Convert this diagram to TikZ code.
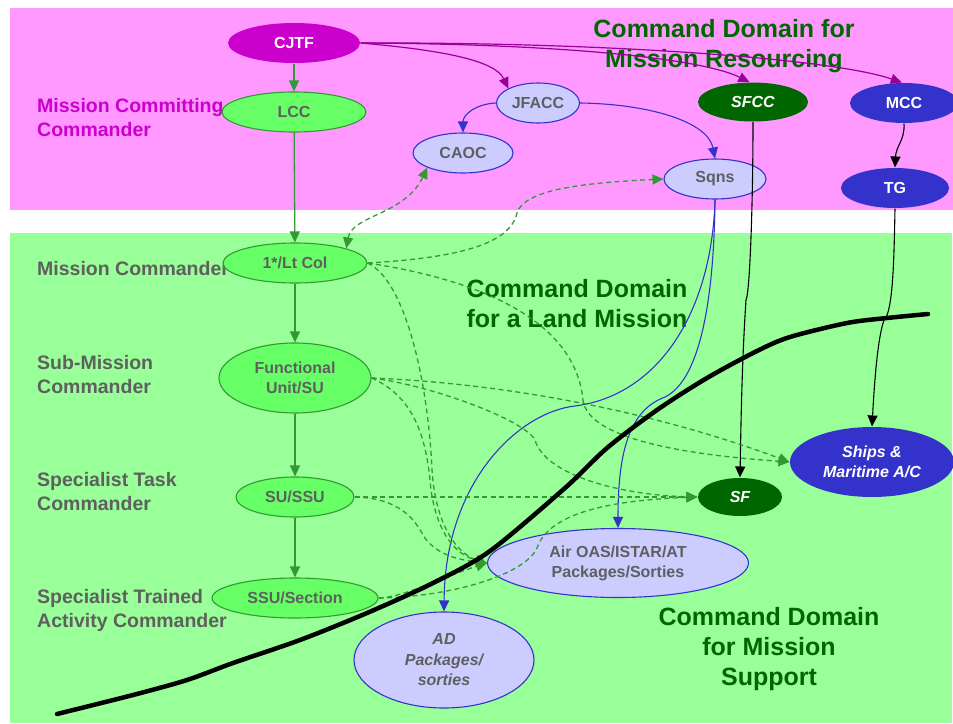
\documentclass[tikz,border=0pt]{standalone}
\usepackage{fontspec}
\setmainfont{Liberation Sans}
\usetikzlibrary{shapes.geometric,arrows.meta}

\definecolor{pinkbg}{HTML}{FF99FF}
\definecolor{greenbg}{HTML}{99FF99}
\definecolor{nodegreen}{HTML}{66FF66}
\definecolor{edgegreen}{HTML}{339933}
\definecolor{lavender}{HTML}{CCCCFF}
\definecolor{royal}{HTML}{3333CC}
\definecolor{forest}{HTML}{006600}
\definecolor{jointmag}{HTML}{CC00CC}
\definecolor{plum}{HTML}{990099}
\definecolor{labelgray}{HTML}{5F5F5F}

\tikzset{
  cmdunit/.style={ellipse, inner sep=0pt, align=center, line width=1.1pt,
    font=\fontsize{16}{20}\selectfont\bfseries},
  landunit/.style={cmdunit, fill=nodegreen, draw=edgegreen, text=labelgray},
  airunit/.style={cmdunit, fill=lavender, draw=royal, text=labelgray},
  sfunit/.style={cmdunit, fill=forest, text=white,
    font=\fontsize{16}{20}\selectfont\bfseries\itshape},
  seaunit/.style={cmdunit, fill=royal, text=white},
  jointunit/.style={cmdunit, fill=jointmag, text=white},
  % multi-line labels: the base anchor sits on the last line
  rolelabel/.style={anchor=base west, inner sep=0pt, align=left, text=labelgray,
    font=\fontsize{19.5}{24}\selectfont\bfseries},
  domaintitle/.style={anchor=base, inner sep=0pt, align=center, text=forest,
    font=\fontsize{25}{30}\selectfont\bfseries},
  chainlink/.style={draw=edgegreen, line width=1.3pt, -{Triangle[length=11pt,width=10pt]}},
  supportlink/.style={draw=edgegreen, line width=1.3pt, dash pattern=on 5pt off 3.5pt,
    -{Triangle[length=11pt,width=10pt]}},
  jointlink/.style={draw=plum, line width=1.2pt, -{Triangle[length=11pt,width=10pt]}},
  airlink/.style={draw=royal, line width=1.1pt, -{Triangle[length=11pt,width=10pt]}},
  sealink/.style={draw=black, line width=1.1pt, -{Triangle[length=11pt,width=10pt]}},
}

\begin{document}
\begin{tikzpicture}[x=1pt,y=-1pt]
\useasboundingbox (0,0) rectangle (953,723);

% command domains
\fill[pinkbg] (10,8) rectangle (953,210);
\fill[greenbg] (10,233) rectangle (952,723);

% domain titles
\node[domaintitle] (tres) at (724,67) {Command Domain for\\Mission Resourcing};
\node[domaintitle] (tland) at (577,327) {Command Domain\\for a Land Mission};
\node[domaintitle] (tsup) at (769,685) {Command Domain\\for Mission\\Support};

% role labels
\node[rolelabel, text=jointmag] (rmcc) at (37,136) {Mission Committing\\Commander};
\node[rolelabel] (rmc) at (37,275) {Mission Commander};
\node[rolelabel] (rsmc) at (37,393) {Sub-Mission\\Commander};
\node[rolelabel] (rstc) at (37,510) {Specialist Task\\Commander};
\node[rolelabel] (rsta) at (37,627) {Specialist Trained\\Activity Commander};

% units
\node[jointunit, minimum width=132pt, minimum height=40pt] (cjtf) at (294,43) {CJTF};
\node[landunit, minimum width=144pt, minimum height=40pt] (lcc) at (294,112) {LCC};
\node[airunit, minimum width=83pt, minimum height=40pt] (jfacc) at (538,103) {JFACC};
\node[airunit, minimum width=100pt, minimum height=40pt] (caoc) at (463,153) {CAOC};
\node[sfunit, minimum width=110pt, minimum height=39pt] (sfcc) at (753,102) {SFCC};
\node[seaunit, minimum width=108pt, minimum height=40pt] (mcc) at (904,103) {MCC};
\node[airunit, minimum width=102pt, minimum height=40pt] (sqns) at (715,179) {Sqns};
\node[seaunit, minimum width=108pt, minimum height=40pt] (tg) at (895,188) {TG};
\node[landunit, minimum width=144pt, minimum height=40pt] (ltcol) at (295,263) {1*/Lt Col};
\node[landunit, minimum width=152pt, minimum height=70pt] (fu) at (295,378) {Functional\\Unit/SU};
\node[landunit, minimum width=118pt, minimum height=40pt] (su) at (295,497) {SU/SSU};
\node[landunit, minimum width=166pt, minimum height=40pt] (ssu) at (295,598) {SSU/Section};
\node[airunit, minimum width=180pt, minimum height=96pt,
      font=\fontsize{16}{20.5}\selectfont\bfseries\itshape] (ad) at (444,660) {AD\\Packages/\\sorties};
\node[airunit, minimum width=261pt, minimum height=69pt] (air) at (618,563) {Air OAS/ISTAR/AT\\Packages/Sorties};
\node[sfunit, minimum width=84pt, minimum height=38pt] (sf) at (740,497) {SF};
\node[seaunit, minimum width=164pt, minimum height=70pt,
      font=\fontsize{16}{20}\selectfont\bfseries\itshape] (ships) at (872,462) {Ships \&\\Maritime A/C};

% land chain of command
\draw[chainlink] (cjtf) -- (lcc);
\draw[chainlink] (lcc) -- (ltcol);
\draw[chainlink] (ltcol) -- (fu);
\draw[chainlink] (fu) -- (su);
\draw[chainlink] (su) -- (ssu);

% CJTF to component commanders
\draw[jointlink] (cjtf.east) .. controls (440,50) and (495,60) .. (jfacc.north west);
\draw[jointlink] (cjtf.east) .. controls (560,44) and (700,58) .. (sfcc.100);
\draw[jointlink] (cjtf.east) .. controls (600,42) and (830,58) .. (mcc.96);

% air component
\draw[airlink] (jfacc.west) .. controls (475,104) and (463,115) .. (caoc.north);
\draw[airlink] (jfacc.east) .. controls (650,104) and (708,122) .. (sqns.north);
\draw[airlink] (sqns.south) .. controls (712,310) and (660,395) .. (575,406)
  .. controls (520,412) and (445,480) .. (ad.north);
\draw[airlink] (sqns.south) .. controls (714,300) and (700,380) .. (665,397)
  .. controls (630,410) and (618,450) .. (air.north);

% special forces and maritime components
\draw[sealink] (sfcc.south) .. controls (753,200) and (750,292) .. (746,300)
  .. controls (742,360) and (741,420) .. (sf.north);
\draw[sealink] (mcc.south) .. controls (905,140) and (896,146) .. (tg.north);
\draw[sealink] (tg.south) .. controls (894,260) and (893,312) .. (884,320)
  .. controls (877,340) and (874,390) .. (ships.north);

% supporting relationships
\draw[supportlink, {Triangle[length=11pt,width=10pt]}-{Triangle[length=11pt,width=10pt]}]
  (ltcol.north east) .. controls (352,215) and (405,215) .. (caoc.south west);
\draw[supportlink] (ltcol.east) .. controls (455,258) and (510,245) .. (517,213)
  .. controls (524,190) and (580,183) .. (sqns.west);
\draw[supportlink] (ltcol.east) .. controls (480,280) and (575,320) .. (583,400)
  .. controls (588,440) and (690,455) .. (ships.west);
\draw[supportlink] (ltcol.east) .. controls (405,280) and (428,380) .. (432,470)
  .. controls (436,530) and (460,555) .. (air.west);
\draw[supportlink] (fu.east) .. controls (500,383) and (650,410) .. (ships.west);
\draw[supportlink] (fu.east) .. controls (430,385) and (525,420) .. (535,440)
  .. controls (545,475) and (620,495) .. (sf.west);
\draw[supportlink] (fu.east) .. controls (410,395) and (425,430) .. (430,480)
  .. controls (434,530) and (455,555) .. (air.west);
\draw[supportlink] (su.east) -- (sf.west);
\draw[supportlink] (su.east) .. controls (400,498) and (415,520) .. (423,535)
  .. controls (435,555) and (460,560) .. (air.west);
\draw[supportlink] (ssu.east) .. controls (450,597) and (525,575) .. (537,548)
  .. controls (550,510) and (620,500) .. (sf.west);
\draw[supportlink] (ssu.east) .. controls (405,597) and (440,578) .. (air.west);

% boundary between the land mission and mission support
\draw[line width=4.5pt, line cap=round, line join=round] plot[smooth, tension=0.5] coordinates {
  (57,714) (133,695) (187,680) (233,663) (300,640) (367,613) (433,583)
  (490,551) (565,488) (607,448) (657,410) (707,378) (757,351) (790,337)
  (847,323) (887,318) (928,314)};
\end{tikzpicture}
\end{document}
